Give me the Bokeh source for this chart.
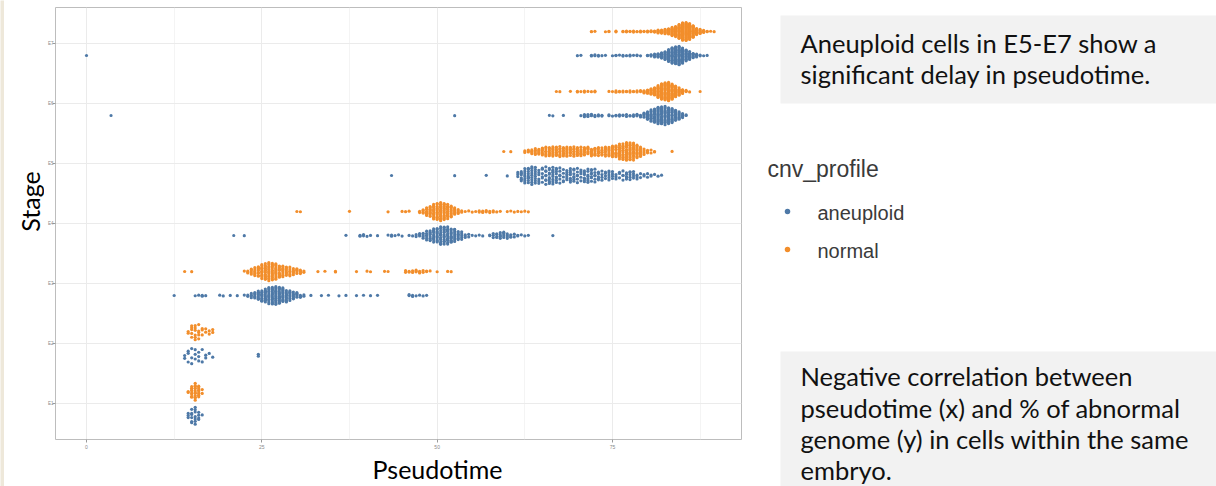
import numpy as np
from bokeh.plotting import figure
from bokeh.layouts import row, column
from bokeh.models import Range1d, FixedTicker, ColumnDataSource
from bokeh.core.properties import value
from bokeh.embed import file_html
from bokeh.resources import INLINE

# ---------------------------------------------------------------- data
STAGES = ["E1", "E2", "E3", "E4", "E5", "E6", "E7"]
PROFILES = ["aneuploid", "normal"]
PROFILE_COLORS = ["#4E79A7", "#F28E2B"]
X_TICKS = [0, 25, 50, 75]
X_MINOR = [12.5, 37.5, 62.5, 87.5]

# pseudotime of the cells (rounded to 0.5) and how many cells sit at that value
e1_aneuploid_pt = [14.5, 15.0, 15.5, 16.0, 16.5]
e1_aneuploid_n = [3, 6, 7, 4, 1]
e1_normal_pt = [14.5, 15.0, 15.5, 16.0, 16.5]
e1_normal_n = [2, 8, 12, 8, 2]

e2_aneuploid_pt = [14.0, 14.5, 15.0, 15.5, 16.0, 16.5, 17.0, 17.5, 18.0, 24.5]
e2_aneuploid_n = [2, 3, 3, 3, 3, 2, 2, 1, 1, 2]
e2_normal_pt = [14.5, 15.0, 15.5, 16.0, 16.5, 17.0, 17.5, 18.0]
e2_normal_n = [2, 5, 6, 5, 3, 2, 2, 2]

e3_aneuploid_pt = [12.5, 15.5, 16.0, 16.5, 17.0, 19.0, 19.5, 20.5, 21.5, 22.5,
                   23.0, 23.5, 24.0, 24.5, 25.0, 25.5, 26.0, 26.5, 27.0, 27.5,
                   28.0, 28.5, 29.0, 29.5, 30.0, 30.5, 31.0, 32.0, 33.5, 34.5,
                   36.0, 37.0, 38.5, 39.5, 40.5, 41.5, 46.0, 46.5, 47.0, 47.5,
                   48.0, 48.5]
e3_aneuploid_n = [1, 1, 1, 2, 1, 1, 1, 1, 1, 1,
                  2, 4, 6, 8, 10, 12, 14, 16, 16, 15,
                  13, 11, 9, 7, 5, 3, 2, 1, 1, 1,
                  1, 1, 1, 1, 1, 1, 2, 2, 1, 1,
                  1, 1]
e3_normal_pt = [14.0, 15.0, 22.5, 23.0, 23.5, 24.0, 24.5, 25.0, 25.5, 26.0,
                26.5, 27.0, 27.5, 28.0, 28.5, 29.0, 29.5, 30.0, 30.5, 31.0,
                33.0, 34.0, 35.5, 38.5, 40.0, 40.5, 42.5, 43.0, 45.5, 46.0,
                46.5, 47.0, 47.5, 48.0, 48.5, 49.0, 50.0, 51.5, 52.0]
e3_normal_n = [1, 1, 1, 3, 5, 7, 9, 12, 14, 16,
               15, 13, 11, 9, 8, 7, 6, 5, 4, 2,
               1, 1, 2, 1, 1, 1, 1, 1, 2, 2,
               2, 3, 3, 2, 2, 1, 1, 1, 1]

e4_aneuploid_pt = [21.0, 22.5, 37.0, 39.0, 39.5, 40.0, 40.5, 41.5, 43.0, 43.5,
                   44.0, 44.5, 45.0, 46.0, 46.5, 47.0, 47.5, 48.0, 48.5, 49.0,
                   49.5, 50.0, 50.5, 51.0, 51.5, 52.0, 52.5, 53.0, 53.5, 54.0,
                   54.5, 55.0, 55.5, 56.0, 56.5, 57.5, 58.0, 58.5, 59.0, 59.5,
                   60.0, 60.5, 61.0, 61.5, 62.0, 62.5, 63.0, 66.5]
e4_aneuploid_n = [1, 1, 1, 2, 2, 1, 1, 1, 1, 2,
                  1, 1, 1, 1, 1, 2, 3, 4, 6, 8,
                  10, 11, 12, 13, 12, 11, 9, 7, 5, 3,
                  2, 1, 1, 1, 1, 2, 3, 4, 5, 5,
                  4, 3, 2, 2, 1, 1, 1, 1]
e4_normal_pt = [30.0, 30.5, 37.5, 43.0, 45.0, 45.5, 46.0, 47.5, 48.0, 48.5,
                49.0, 49.5, 50.0, 50.5, 51.0, 51.5, 52.0, 52.5, 53.0, 53.5,
                54.0, 54.5, 55.0, 55.5, 56.0, 56.5, 57.0, 57.5, 58.0, 58.5,
                59.0, 60.0, 60.5, 61.0, 61.5, 62.0, 62.5, 63.0]
e4_normal_n = [1, 1, 1, 1, 1, 1, 1, 2, 4, 7,
               10, 13, 15, 16, 15, 13, 10, 7, 4, 2,
               1, 1, 1, 1, 2, 2, 2, 2, 2, 1,
               1, 1, 1, 1, 1, 1, 1, 1]

e5_aneuploid_pt = [43.5, 52.5, 57.0, 60.0, 61.5, 62.0, 62.5, 63.0, 63.5, 64.0,
                   64.5, 65.0, 65.5, 66.0, 66.5, 67.0, 67.5, 68.0, 68.5, 69.0,
                   69.5, 70.0, 70.5, 71.0, 71.5, 72.0, 72.5, 73.0, 73.5, 74.0,
                   74.5, 75.0, 75.5, 76.0, 76.5, 77.0, 77.5, 78.0, 78.5, 79.0,
                   79.5, 80.0, 80.5, 81.0, 81.5, 82.0]
e5_aneuploid_n = [1, 1, 1, 1, 3, 6, 8, 9, 9, 8,
                  6, 6, 8, 9, 9, 8, 6, 5, 6, 7,
                  7, 6, 5, 6, 7, 7, 6, 5, 4, 4,
                  5, 4, 3, 3, 4, 5, 5, 4, 3, 2,
                  2, 2, 2, 1, 1, 1]
e5_normal_pt = [59.5, 60.5, 62.5, 63.0, 63.5, 64.0, 64.5, 65.0, 65.5, 66.0,
                66.5, 67.0, 67.5, 68.0, 68.5, 69.0, 69.5, 70.0, 70.5, 71.0,
                71.5, 72.0, 72.5, 73.0, 73.5, 74.0, 74.5, 75.0, 75.5, 76.0,
                76.5, 77.0, 77.5, 78.0, 78.5, 79.0, 79.5, 80.0, 80.5, 81.0,
                83.5]
e5_normal_n = [1, 1, 2, 3, 4, 5, 6, 7, 7, 8,
               8, 8, 8, 8, 8, 7, 8, 8, 7, 7,
               6, 7, 7, 6, 7, 7, 8, 8, 10, 12,
               14, 15, 16, 15, 12, 8, 4, 3, 2, 2,
               1]

e6_aneuploid_pt = [3.5, 52.5, 66.0, 66.5, 68.0, 70.5, 71.0, 71.5, 72.0, 72.5,
                   73.0, 73.5, 74.5, 75.0, 75.5, 76.0, 76.5, 77.0, 77.5, 78.0,
                   78.5, 79.0, 79.5, 80.0, 80.5, 81.0, 81.5, 82.0, 82.5, 83.0,
                   83.5, 84.0, 84.5, 85.0, 85.5]
e6_aneuploid_n = [1, 1, 1, 1, 1, 1, 3, 3, 3, 2,
                  2, 2, 2, 1, 2, 2, 2, 2, 2, 2,
                  3, 3, 5, 8, 11, 14, 17, 18, 18, 17,
                  14, 11, 8, 5, 2]
e6_normal_pt = [67.0, 67.5, 69.0, 70.0, 70.5, 71.0, 71.5, 72.0, 72.5, 74.5,
                75.0, 75.5, 76.0, 76.5, 77.0, 77.5, 78.0, 78.5, 79.0, 79.5,
                80.0, 80.5, 81.0, 81.5, 82.0, 82.5, 83.0, 83.5, 84.0, 84.5,
                85.0, 85.5, 86.0, 87.5]
e6_normal_n = [1, 1, 1, 2, 1, 2, 1, 1, 2, 1,
               1, 2, 2, 2, 2, 2, 2, 2, 3, 4,
               5, 8, 12, 16, 22, 26, 26, 22, 16, 10,
               6, 3, 1, 1]

e7_aneuploid_pt = [0.0, 70.0, 70.5, 72.0, 72.5, 73.0, 73.5, 74.0, 75.0, 75.5,
                   76.0, 76.5, 77.0, 77.5, 78.0, 78.5, 79.0, 80.0, 80.5, 81.0,
                   81.5, 82.0, 82.5, 83.0, 83.5, 84.0, 84.5, 85.0, 85.5, 86.0,
                   86.5, 87.0, 87.5, 88.0, 88.5]
e7_aneuploid_n = [1, 1, 1, 2, 2, 2, 1, 1, 1, 2,
                  1, 2, 1, 2, 1, 2, 1, 2, 3, 4,
                  6, 8, 12, 16, 22, 26, 26, 22, 16, 11,
                  7, 4, 2, 1, 1]
e7_normal_pt = [72.0, 72.5, 74.0, 74.5, 75.5, 76.5, 77.0, 77.5, 78.0, 78.5,
                79.0, 79.5, 80.0, 80.5, 81.0, 81.5, 82.0, 82.5, 83.0, 83.5,
                84.0, 84.5, 85.0, 85.5, 86.0, 86.5, 87.0, 87.5, 88.0, 88.5,
                89.0, 89.5]
e7_normal_n = [2, 1, 1, 2, 2, 2, 2, 2, 2, 2,
               2, 2, 2, 3, 3, 5, 6, 8, 10, 14,
               18, 24, 30, 32, 28, 20, 12, 7, 4, 2,
               1, 1]

GROUPS = {
    ("E1", "aneuploid"): (e1_aneuploid_pt, e1_aneuploid_n),
    ("E1", "normal"): (e1_normal_pt, e1_normal_n),
    ("E2", "aneuploid"): (e2_aneuploid_pt, e2_aneuploid_n),
    ("E2", "normal"): (e2_normal_pt, e2_normal_n),
    ("E3", "aneuploid"): (e3_aneuploid_pt, e3_aneuploid_n),
    ("E3", "normal"): (e3_normal_pt, e3_normal_n),
    ("E4", "aneuploid"): (e4_aneuploid_pt, e4_aneuploid_n),
    ("E4", "normal"): (e4_normal_pt, e4_normal_n),
    ("E5", "aneuploid"): (e5_aneuploid_pt, e5_aneuploid_n),
    ("E5", "normal"): (e5_normal_pt, e5_normal_n),
    ("E6", "aneuploid"): (e6_aneuploid_pt, e6_aneuploid_n),
    ("E6", "normal"): (e6_normal_pt, e6_normal_n),
    ("E7", "aneuploid"): (e7_aneuploid_pt, e7_aneuploid_n),
    ("E7", "normal"): (e7_normal_pt, e7_normal_n),
}

# ------------------------------------------------------- swarm layout
DODGE = {"aneuploid": -0.2, "normal": 0.2}
HALF_WIDTH = 0.155


def van_der_corput(n, base=2):
    out = np.empty(n)
    for i in range(1, n + 1):
        q, denom, k = 0.0, 1.0, i
        while k:
            k, r = divmod(k, base)
            denom *= base
            q += r / denom
        out[i - 1] = q
    return out


def quasirandom_offsets(xs):
    """Vertical offsets of a quasirandom swarm, scaled by the local density."""
    xs = np.asarray(xs, float)
    n = len(xs)
    sd = xs.std(ddof=1) if n > 1 else 1.0
    q75, q25 = np.percentile(xs, [75, 25])
    spread = min(sd, (q75 - q25) / 1.34) if q75 > q25 else sd
    bw = max(0.9 * spread * n ** -0.2 * 0.5, 0.25)
    dens = np.exp(-0.5 * ((xs[:, None] - xs[None, :]) / bw) ** 2).sum(axis=1)
    dens = dens / dens.max()
    order = np.argsort(xs, kind="stable")
    off = np.empty(n)
    off[order] = (van_der_corput(n) - 0.5) * 2.0 * dens[order] * HALF_WIDTH
    return off


def blank(width, height, xr, yr, fill="white"):
    f = figure(width=width, height=height, x_range=Range1d(*xr), y_range=Range1d(*yr),
               output_backend="svg", toolbar_location=None, min_border=0,
               x_axis_type=None, y_axis_type=None, frame_align=False,
               background_fill_color=fill, border_fill_color=fill)
    f.outline_line_color = None
    f.grid.visible = False
    return f


# ------------------------------------------------------------ main plot
X0, X1 = -4.42, 93.40
p = figure(width=716, height=452, x_range=Range1d(X0, X1), y_range=Range1d(0.4, 7.6),
           output_backend="svg", toolbar_location=None, frame_align=False,
           min_border_left=11, min_border_right=19, min_border_top=7, min_border_bottom=13,
           background_fill_color="white", border_fill_color="white")
p.outline_line_color = "#bdbdbd"
p.outline_line_width = 1

for profile, color in zip(PROFILES, PROFILE_COLORS):
    xs_all, ys_all = [], []
    for si, stage in enumerate(STAGES):
        pts, counts = GROUPS[(stage, profile)]
        xs = np.repeat(np.asarray(pts, float), counts)
        ys = (si + 1) + DODGE[profile] + quasirandom_offsets(xs)
        xs_all.append(xs)
        ys_all.append(ys)
    src = ColumnDataSource(dict(x=np.concatenate(xs_all), y=np.concatenate(ys_all)))
    p.scatter("x", "y", source=src, size=3.2, fill_color=color, line_color=None)

p.xaxis.ticker = FixedTicker(ticks=X_TICKS, minor_ticks=X_MINOR)
p.yaxis.ticker = FixedTicker(ticks=list(range(1, len(STAGES) + 1)))
p.yaxis.major_label_overrides = {i + 1: s for i, s in enumerate(STAGES)}

for ax in (p.xaxis, p.yaxis):
    ax.axis_line_color = None
    ax.major_tick_line_color = "#9a9a9a"
    ax.major_tick_out = 3
    ax.major_tick_in = 0
    ax.minor_tick_out = 0
    ax.minor_tick_in = 0
    ax.major_label_text_font = "Liberation Sans"
    ax.major_label_text_font_size = "5px"
    ax.major_label_text_color = "#8a8a8a"
p.yaxis.major_label_text_font_size = "4.5px"
p.xaxis.major_label_standoff = 2
p.yaxis.major_label_standoff = -1

p.xgrid.grid_line_color = "#ebebeb"
p.xgrid.minor_grid_line_color = "#f1f1f1"
p.xgrid.minor_grid_line_width = 0.8
p.ygrid.grid_line_color = "#ebebeb"

# ------------------------------------------------------ axis titles
title_font = value("Lato")
stage_fig = blank(40, 486, (4, 44), (0, 486))
stage_fig.text(x=[29.5], y=[486 - 201], text=["Stage"], angle=np.pi / 2,
               text_font=title_font, text_font_size="25px", text_color="black",
               text_align="center", text_baseline="middle")

xlab_fig = blank(716, 34, (44, 760), (0, 34))
xlab_fig.text(x=[437], y=[486 - 468], text=["Pseudotime"],
              text_font=title_font, text_font_size="25px", text_color="black",
              text_align="center", text_baseline="middle")

# ----------------------------------------------------- left slide edge
edge = blank(4, 486, (0, 1), (0, 1), fill="#eee8da")

# ------------------------------------------- legend and notes panel
q = blank(456, 486, (760, 1216), (486, 0))

q.quad(left=[780, 780], right=[1216, 1216], top=[15, 351], bottom=[103, 486],
       fill_color="#f2f2f2", line_color=None)

note_font = value("Lato")
q.text(x=[800, 800], y=[42, 73],
       text=["Aneuploid cells in E5-E7 show a", "significant delay in pseudotime."],
       text_font=note_font, text_font_size="25.5px", text_color="#111111",
       text_baseline="middle")
q.text(x=[800, 800, 800, 800], y=[375, 407, 438, 469],
       text=["Negative correlation between", "pseudotime (x) and % of abnormal",
             "genome (y) in cells within the same", "embryo."],
       text_font=note_font, text_font_size="25.5px", text_color="#111111",
       text_baseline="middle")

q.text(x=[767], y=[168], text=["cnv_profile"], text_font=value("Liberation Sans"),
       text_font_size="23px", text_color="#3a3a3a", text_baseline="middle")
q.scatter(x=[787, 787], y=[211, 249], size=5.5, fill_color=PROFILE_COLORS, line_color=None)
q.text(x=[817, 817], y=[212, 250], text=PROFILES, text_font=value("Liberation Sans"),
       text_font_size="20px", text_color="#3a3a3a", text_baseline="middle")

layout = row(edge, stage_fig, column(p, xlab_fig, spacing=0), q, spacing=0)
open("out.html", "w").write(file_html(layout, INLINE))
